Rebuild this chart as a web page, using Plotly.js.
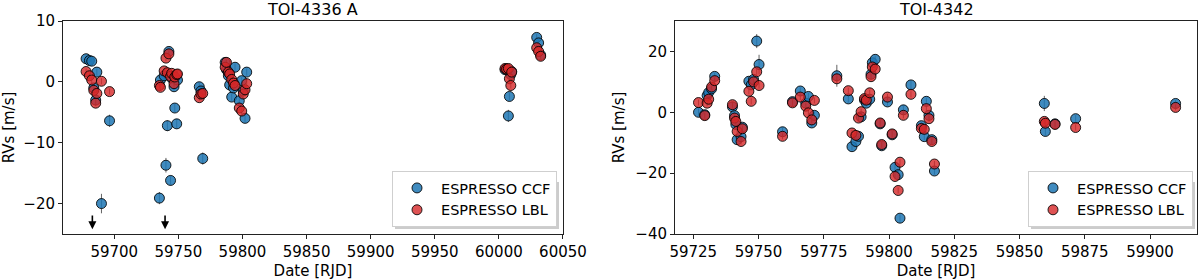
<!DOCTYPE html>
<html>
<head>
<meta charset="utf-8">
<script src="https://cdn.plot.ly/plotly-3.0.1.min.js"></script>
<style>html,body{margin:0;padding:0;background:#fff;} #chart{width:1200px;height:280px;}</style>
</head>
<body>
<div id="chart"></div>
<script>
// ---------- TOI-4336 A ----------
const t4336 = [59678.0,59680.6,59682.4,59684.0,59685.5,59686.4,59690.0,59696.3,
  59735.2,59736.0,59738.9,59740.3,59741.4,59742.6,59743.9,59744.8,59746.6,59747.2,59748.7,59749.3,
  59766.3,59767.6,59769.0,
  59786.5,59787.5,59789.0,59790.0,59791.6,59793.0,59794.2,59797.5,59799.4,59800.6,59802.0,59803.3,
  60004.8,60006.0,60007.4,60008.2,60009.3,60010.0,
  60029.5,60031.0,60032.6];
const ccf4336 = [3.8,3.5,3.4,-1.0,-3.0,1.6,-20.0,-6.4,
  -19.1,0.3,1.0,-13.7,-7.2,5.0,-16.2,0.6,-0.8,-4.3,-6.9,0.3,
  -0.8,-1.5,-12.6,
  3.2,2.0,1.0,-0.5,-2.5,-1.0,2.4,-3.1,0.2,-1.5,-6.0,1.6,
  2.0,2.1,-5.6,-2.4,1.2,1.7,
  7.3,6.4,4.4];
const ccf4336err = [0.6,0.6,0.6,0.6,0.6,0.6,1.6,1.0,
  1.0,0.6,0.6,1.2,0.9,0.6,0.8,0.6,0.6,0.7,0.8,0.6,
  0.7,0.6,1.0,
  0.6,0.6,0.6,0.6,0.6,0.6,0.6,0.6,0.6,0.6,0.7,0.6,
  0.6,0.6,1.0,0.7,0.6,0.6,
  0.6,0.6,0.6];
const lbl4336 = [1.7,1.0,0.3,-1.4,-3.5,-1.9,0.1,-1.6,
  -0.6,-0.9,1.8,3.9,1.5,4.6,0.9,1.4,-0.3,0.8,1.2,1.3,
  -2.6,-2.0,-1.9,
  2.4,3.2,1.6,1.3,0.4,-0.2,-0.6,-4.3,-4.8,-2.0,-1.3,-0.3,
  2.2,2.1,2.2,0.5,-0.6,1.6,
  5.6,5.0,4.2];
const lbl4336err = [0.5,0.5,0.5,0.5,0.5,0.5,0.5,0.5,
  0.5,0.5,0.5,0.5,0.5,0.5,0.5,0.5,0.5,0.5,0.5,0.5,
  0.5,0.5,0.5,
  0.5,0.5,0.5,0.5,0.5,0.5,0.5,0.5,0.5,0.5,0.5,0.5,
  0.5,0.5,0.5,0.5,0.5,0.5,
  0.5,0.5,0.5];
const arrowDates4336 = [59682.9, 59739.6];

// ---------- TOI-4342 ----------
const t4342 = [59727.0,59729.4,59730.3,59730.9,59732.0,59733.2,
  59740.0,59740.8,59741.3,59741.8,59743.3,59743.8,
  59746.3,59747.2,59748.1,59749.3,59750.2,
  59759.2,
  59763.0,59766.0,59768.1,59769.1,59770.4,59771.4,
  59780.0,59784.4,59785.8,59787.3,59788.3,59789.3,59790.6,59791.3,59792.6,59793.1,59793.6,59794.7,59796.6,59797.2,
  59799.4,59801.2,59802.3,59803.5,59804.2,59805.5,59808.4,59812.4,59813.5,59814.3,59815.3,59816.4,59817.4,
  59859.5,59859.9,59863.6,59871.5,59909.8];
const ccf4342 = [0.0,-0.8,5.5,6.5,7.7,11.8,
  1.8,-1.1,-4.0,-9.0,-8.0,-4.9,
  10.2,9.0,10.8,23.4,15.7,
  -6.4,
  3.5,7.0,3.0,5.2,-3.5,-1.0,
  12.0,4.4,-11.3,-9.6,-7.9,-1.5,4.0,3.0,4.3,12.5,16.3,17.4,-3.8,-11.0,
  3.4,-7.4,-18.1,-20.5,-34.8,0.8,9.0,-4.4,-8.0,3.6,-1.0,-9.0,-19.3,
  2.9,-6.3,-3.8,-2.1,2.9];
const ccf4342err = [1.2,1.2,1.2,1.2,1.2,1.2,
  1.2,1.2,1.2,1.2,1.2,1.2,
  1.2,1.2,1.2,2.3,3.2,
  1.5,
  1.2,1.2,1.2,1.2,1.2,1.2,
  3.6,1.2,1.2,1.2,1.2,1.2,1.2,1.2,1.2,1.2,1.2,1.2,1.2,1.2,
  1.2,1.2,1.2,1.2,1.2,1.5,1.5,1.2,1.2,1.2,1.2,1.2,1.2,
  2.5,1.5,1.2,1.2,1.2];
const lbl4342 = [3.2,-1.1,3.0,4.3,8.3,10.4,
  2.5,-1.9,-3.0,-6.3,-9.6,-5.4,
  6.9,3.6,10.0,13.3,8.8,
  -7.9,
  3.1,5.0,2.0,-0.2,-2.5,3.9,
  11.0,7.1,-6.8,-7.6,-1.9,0.2,4.5,4.0,6.4,11.7,14.9,14.2,-3.5,-10.6,
  5.0,-7.1,-21.1,-25.7,-16.4,-1.0,5.9,-5.3,-5.6,1.2,-2.1,-9.6,-17.0,
  -3.0,-3.6,-4.0,-5.0,1.6];
const lbl4342err = [1.0,1.0,1.0,1.0,1.0,1.0,
  1.0,1.0,1.0,1.0,1.0,1.0,
  1.0,1.0,1.0,1.0,1.0,
  1.0,
  1.0,1.0,1.0,1.0,1.0,1.0,
  1.0,1.0,1.0,1.0,1.0,1.0,1.0,1.0,1.0,1.0,1.0,1.0,1.0,1.0,
  1.0,1.0,1.0,1.0,1.0,1.0,1.0,1.0,1.0,1.0,1.0,1.0,1.0,
  1.0,1.0,1.0,1.0,1.0];

const seriesNames = ['ESPRESSO CCF', 'ESPRESSO LBL'];
const titles = ['TOI-4336 A', 'TOI-4342'];

// ---------- styling ----------
const FONT = 'DejaVu Sans, Liberation Sans, sans-serif';
const blueFill = 'rgba(31,119,180,0.85)';
const redFill = 'rgba(214,39,40,0.8)';
const errCol = 'rgba(60,60,60,0.8)';

function trace(x, y, err, name, color, xa, ya, legend) {
  return {
    type: 'scatter', mode: 'markers', x: x, y: y, name: name,
    xaxis: xa, yaxis: ya, legend: legend, showlegend: true,
    marker: {size: 10, color: color, line: {color: 'rgba(0,0,0,0.85)', width: 1}},
    error_y: {type: 'data', array: err, visible: true, color: errCol, thickness: 1, width: 0}
  };
}

const data = [
  trace(t4336, ccf4336, ccf4336err, seriesNames[0], blueFill, 'x', 'y', 'legend'),
  trace(t4336, lbl4336, lbl4336err, seriesNames[1], redFill, 'x', 'y', 'legend'),
  trace(t4342, ccf4342, ccf4342err, seriesNames[0], blueFill, 'x2', 'y2', 'legend2'),
  trace(t4342, lbl4342, lbl4342err, seriesNames[1], redFill, 'x2', 'y2', 'legend2')
];

const axBase = {
  showline: true, linecolor: '#222', linewidth: 1, mirror: true,
  ticks: 'outside', ticklen: 4, tickwidth: 1, tickcolor: '#222',
  showgrid: false, zeroline: false,
  tickfont: {family: FONT, size: 15, color: '#000'}
};
const axTitleFont = {family: FONT, size: 15, color: '#000'};

// pixel helpers for paper-referenced decorations (plot area: l=63, t=21, w=1134, h=213)
const px = v => (v - 63) / 1134;
const py = v => (234 - v) / 213;

function legendShadow(left, right, top, bottom) {
  return {type: 'rect', xref: 'paper', yref: 'paper', layer: 'above',
    x0: px(left + 2), x1: px(right + 2), y0: py(bottom + 2), y1: py(top + 2),
    fillcolor: 'rgba(0,0,0,0.2)', line: {width: 0}};
}

const layout = {
  width: 1200, height: 280,
  margin: {l: 63, r: 3, t: 21, b: 46},
  paper_bgcolor: '#fff', plot_bgcolor: '#fff',
  font: {family: FONT, color: '#000'},
  xaxis: Object.assign({}, axBase, {domain: [0, 0.4409], range: [59660, 60050],
    tickvals: [59700,59750,59800,59850,59900,59950,60000,60050],
    ticktext: ['59700','59750','59800','59850','59900','59950','60000','60050'],
    title: {text: 'Date [RJD]', font: axTitleFont, standoff: 8}}),
  yaxis: Object.assign({}, axBase, {domain: [0, 1], range: [-25, 10], anchor: 'x',
    tickvals: [-20,-10,0,10],
    title: {text: 'RVs [m/s]', font: axTitleFont, standoff: 7}}),
  xaxis2: Object.assign({}, axBase, {domain: [0.5397, 1], range: [59718, 59918], anchor: 'y2',
    tickvals: [59725,59750,59775,59800,59825,59850,59875,59900],
    ticktext: ['59725','59750','59775','59800','59825','59850','59875','59900'],
    title: {text: 'Date [RJD]', font: axTitleFont, standoff: 8}}),
  yaxis2: Object.assign({}, axBase, {domain: [0, 1], range: [-40, 30], anchor: 'x2',
    tickvals: [-40,-20,0,20],
    title: {text: 'RVs [m/s]', font: axTitleFont, standoff: 7}}),
  legend: {x: px(557), y: py(227), xanchor: 'right', yanchor: 'bottom',
    bgcolor: '#fff', bordercolor: '#cfcfcf', borderwidth: 1, itemwidth: 38,
    tracegroupgap: 0, font: {family: FONT, size: 14.5, color: '#000'}},
  legend2: {x: px(1193), y: py(227), xanchor: 'right', yanchor: 'bottom',
    bgcolor: '#fff', bordercolor: '#cfcfcf', borderwidth: 1, itemwidth: 38,
    tracegroupgap: 0, font: {family: FONT, size: 14.5, color: '#000'}},
  shapes: [legendShadow(393, 557, 180, 227), legendShadow(1029, 1193, 180, 227)],
  annotations: [
    {text: titles[0], xref: 'x domain', yref: 'paper', x: 0.5, y: 1, yshift: 12,
     xanchor: 'center', yanchor: 'middle', showarrow: false, font: {family: FONT, size: 16, color: '#000'}},
    {text: titles[1], xref: 'x2 domain', yref: 'paper', x: 0.5, y: 1, yshift: 12,
     xanchor: 'center', yanchor: 'middle', showarrow: false, font: {family: FONT, size: 16, color: '#000'}}
  ].concat(arrowDates4336.map(d => ({
    text: '', xref: 'x', yref: 'y', x: d, y: -24.2,
    axref: 'x', ayref: 'y', ax: d, ay: -21.7,
    showarrow: true, arrowhead: 2, arrowsize: 1, arrowwidth: 1.6, arrowcolor: '#000'
  })))
};

Plotly.newPlot('chart', data, layout, {staticPlot: true, displayModeBar: false});
</script>
</body>
</html>
